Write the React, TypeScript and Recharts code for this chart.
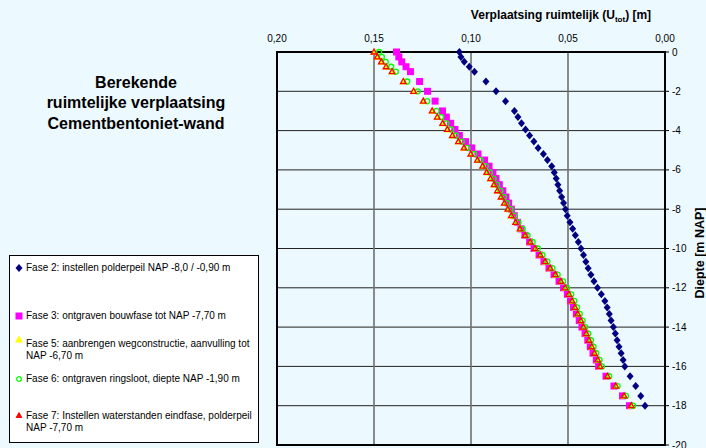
import { ScatterChart, Scatter, XAxis, YAxis, CartesianGrid, ReferenceArea } from 'recharts';

// depth of each calculation node [m NAP]
const depth = [
  0, -0.25, -0.5, -0.75, -1, -1.5, -2, -2.5, -3,
  -3.31, -3.63, -3.94, -4.25, -4.56, -4.88, -5.19, -5.5, -5.81, -6.13, -6.44, -6.75, -7.06, -7.38, -7.69, -8,
  -8.33, -8.67, -9, -9.33, -9.67, -10, -10.33, -10.67, -11, -11.33, -11.67, -12,
  -12.33, -12.67, -13, -13.33, -13.67, -14, -14.33, -14.67, -15, -15.33, -15.67, -16,
  -16.5, -17, -17.5, -18,
];

const fase2 = [
  0.106, 0.1052, 0.1035, 0.1009, 0.0982, 0.0923, 0.0871, 0.0822, 0.0776,
  0.0758, 0.074, 0.0719, 0.0698, 0.0676, 0.0654, 0.0627, 0.0606, 0.0584, 0.0571, 0.0561, 0.0552, 0.0543, 0.0533, 0.0523, 0.0513,
  0.0504, 0.049, 0.0476, 0.0462, 0.0447, 0.0433, 0.042, 0.0408, 0.0396, 0.0382, 0.0366, 0.0348,
  0.0328, 0.031, 0.0298, 0.0287, 0.0278, 0.0266, 0.0256, 0.0247, 0.0237, 0.0226, 0.0216, 0.0207,
  0.018, 0.0151, 0.0125, 0.0103,
];

const fase3 = [
  0.1384, 0.1372, 0.1357, 0.1335, 0.1312, 0.1265, 0.1224, 0.1185, 0.1147,
  0.1127, 0.1105, 0.1083, 0.106, 0.1028, 0.0996, 0.0964, 0.093, 0.0907, 0.0887, 0.0871, 0.0854, 0.0836, 0.082, 0.0806, 0.0792,
  0.0777, 0.076, 0.0742, 0.0722, 0.0698, 0.0675, 0.0649, 0.0624, 0.0598, 0.0572, 0.0546, 0.0523,
  0.0503, 0.0487, 0.0472, 0.0457, 0.0442, 0.0428, 0.0412, 0.0398, 0.0385, 0.0371, 0.0354, 0.0342,
  0.0304, 0.0263, 0.0219, 0.0183,
];

const fase5 = [
  0.1497, 0.1479, 0.1458, 0.1433, 0.1402, 0.1344, 0.1291, 0.1242, 0.1196,
  0.117, 0.1142, 0.1118, 0.1092, 0.1062, 0.1033, 0.0998, 0.0964, 0.0937, 0.0916, 0.0897, 0.0879, 0.0862, 0.0843, 0.0826, 0.0808,
  0.079, 0.0768, 0.0745, 0.0719, 0.0693, 0.0667, 0.0641, 0.0616, 0.059, 0.0563, 0.0535, 0.0513,
  0.0493, 0.0477, 0.0462, 0.0448, 0.0432, 0.0419, 0.0404, 0.039, 0.0376, 0.0362, 0.0345, 0.0333,
  0.0295, 0.0252, 0.0209, 0.0172,
];

const fase6 = [
  0.1476, 0.1462, 0.1442, 0.1414, 0.139, 0.1331, 0.1277, 0.1228, 0.118,
  0.1156, 0.1129, 0.1105, 0.108, 0.105, 0.1021, 0.0986, 0.0953, 0.0926, 0.0905, 0.0886, 0.0868, 0.0851, 0.0833, 0.0816, 0.0798,
  0.078, 0.0758, 0.0736, 0.0711, 0.0685, 0.0658, 0.0634, 0.0609, 0.0583, 0.0556, 0.0528, 0.0507,
  0.0486, 0.047, 0.0456, 0.0442, 0.0427, 0.0413, 0.0398, 0.0384, 0.0371, 0.0357, 0.034, 0.0328,
  0.029, 0.0247, 0.0204, 0.0167,
];

const fase7 = [
  0.15, 0.1483, 0.1462, 0.1438, 0.1407, 0.1349, 0.1296, 0.1246, 0.12,
  0.1174, 0.1146, 0.1122, 0.1096, 0.1065, 0.1036, 0.1001, 0.0967, 0.094, 0.0919, 0.0899, 0.0881, 0.0864, 0.0845, 0.0828, 0.081,
  0.0792, 0.077, 0.0747, 0.0721, 0.0695, 0.0669, 0.0643, 0.0618, 0.0592, 0.0565, 0.0537, 0.0515,
  0.0495, 0.0479, 0.0464, 0.045, 0.0434, 0.0421, 0.0406, 0.0392, 0.0378, 0.0364, 0.0347, 0.0335,
  0.0297, 0.0254, 0.0211, 0.0174,
];

const xTicks = [0, 0.05, 0.1, 0.15, 0.2];
const yTicks = [0, -2, -4, -6, -8, -10, -12, -14, -16, -18, -20];

const legendLabels = [
  'Fase 2: instellen polderpeil NAP -8,0 / -0,90 m',
  'Fase 3: ontgraven bouwfase tot NAP -7,70 m',
  'Fase 5: aanbrengen wegconstructie, aanvulling tot NAP -6,70 m',
  'Fase 6: ontgraven ringsloot, diepte NAP -1,90 m',
  'Fase 7: Instellen waterstanden eindfase, polderpeil NAP -7,70 m',
];

const toRows = (vals: number[]) => depth.map((y, i) => ({ x: vals[i], y }));

const FONT = '"Liberation Sans", Arial, sans-serif';

const Diamond = ({ cx, cy }: any) => (
  <path d={`M${cx},${cy - 4}L${cx + 3.5},${cy}L${cx},${cy + 4}L${cx - 3.5},${cy}Z`} fill="#000080" />
);
const Square = ({ cx, cy }: any) => <rect x={cx - 3.5} y={cy - 3.5} width={7} height={7} fill="#FF00FF" />;
const YellowTri = ({ cx, cy }: any) => (
  <path d={`M${cx},${cy - 4}L${cx + 4},${cy + 3}L${cx - 4},${cy + 3}Z`} fill="#FFFF00" />
);
const GreenCircle = ({ cx, cy }: any) => (
  <circle cx={cx + 0.5} cy={cy} r={2.5} fill="none" stroke="#00FF00" strokeWidth={1.3} />
);
const RedTri = ({ cx, cy }: any) => (
  <path d={`M${cx},${cy - 3}L${cx + 2.8},${cy + 2}L${cx - 2.8},${cy + 2}Z`} fill="none" stroke="#FF0000" strokeWidth={1.3} />
);

const legendMarkers = [
  <path d="M4,0L7.5,4L4,8L0.5,4Z" fill="#000080" />,
  <rect x={0.5} y={0.5} width={7} height={7} fill="#FF00FF" />,
  <path d="M4,0.5L8,7.5L0,7.5Z" fill="#FFFF00" />,
  <circle cx={4} cy={4} r={2.3} fill="none" stroke="#00FF00" strokeWidth={1.3} />,
  <path d="M4,1.5L6.8,6.5L1.2,6.5Z" fill="#FF0000" stroke="#FF0000" strokeWidth={1} />,
];
const legendTops = [262, 310, 338, 373, 410];
const markerTops = [264, 312, 335, 375, 411];

export default function App() {
  return (
    <div
      style={{
        position: 'absolute',
        left: 0,
        top: 0,
        width: 706,
        height: 448,
        background: '#ECF9FE',
        fontFamily: FONT,
        overflow: 'hidden',
      }}
    >
      <div
        style={{
          position: 'absolute',
          left: 0,
          top: 72.5,
          width: 272,
          textAlign: 'center',
          fontWeight: 'bold',
          fontSize: 16,
          lineHeight: '20.5px',
        }}
      >
        Berekende
        <br />
        ruimtelijke verplaatsing
        <br />
        Cementbentoniet-wand
      </div>

      <div
        style={{
          position: 'absolute',
          left: 411,
          width: 300,
          top: 7,
          textAlign: 'center',
          fontWeight: 'bold',
          fontSize: 12,
          lineHeight: '16px',
        }}
      >
        Verplaatsing ruimtelijk (U<sub style={{ fontSize: 8 }}>tot</sub>) [m]
      </div>

      <div
        style={{
          position: 'absolute',
          left: 700 - 60,
          top: 253,
          width: 120,
          marginTop: -8,
          height: 16,
          lineHeight: '16px',
          textAlign: 'center',
          fontWeight: 'bold',
          fontSize: 12.5,
          transform: 'rotate(-90deg)',
          transformOrigin: '60px 8px',
        }}
      >
        Diepte [m NAP]
      </div>

      <div
        style={{
          position: 'absolute',
          left: 9,
          top: 255,
          width: 248,
          height: 186,
          background: '#fff',
          border: '1.5px solid #000',
        }}
      />
      {legendLabels.map((label, i) => (
        <div key={label}>
          <svg
            width={8}
            height={8}
            style={{ position: 'absolute', left: 15, top: markerTops[i] }}
          >
            {legendMarkers[i]}
          </svg>
          <div
            style={{
              position: 'absolute',
              left: 26,
              top: legendTops[i],
              width: 228,
              fontSize: 10,
              lineHeight: '12px',
              color: '#000',
            }}
          >
            {label}
          </div>
        </div>
      ))}

      <div style={{ position: 'absolute', left: 0, top: 0 }}>
        <ScatterChart width={706} height={448} margin={{ top: 30, right: 0, bottom: 3, left: 277 }}>
          <CartesianGrid horizontal vertical={false} stroke="#222" strokeWidth={1} />
          <CartesianGrid horizontal={false} vertical stroke="#707070" strokeWidth={1.6} />
          <XAxis
            type="number"
            dataKey="x"
            orientation="top"
            reversed
            domain={[0, 0.2]}
            ticks={xTicks}
            height={22}
            axisLine={false}
            tickLine={false}
            tickSize={4}
            tickMargin={6}
            tick={{ fontSize: 10, fill: '#000', fontFamily: FONT }}
            tickFormatter={(v) => v.toFixed(2).replace('.', ',')}
            interval={0}
          />
          <YAxis
            type="number"
            dataKey="y"
            orientation="right"
            domain={[-20, 0]}
            ticks={yTicks}
            width={41}
            axisLine={false}
            tickLine={{ stroke: '#000' }}
            tickSize={4}
            tickMargin={3}
            tick={{ fontSize: 10, fill: '#000', fontFamily: FONT, textAnchor: 'start' }}
            interval={0}
          />
          <ReferenceArea
            x1={0}
            x2={0.2}
            y1={-20}
            y2={0}
            fill="none"
            stroke="#000"
            strokeWidth={2}
            fillOpacity={0}
            ifOverflow="visible"
          />
          <Scatter data={toRows(fase2)} shape={Diamond} isAnimationActive={false} />
          <Scatter data={toRows(fase3)} shape={Square} isAnimationActive={false} />
          <Scatter data={toRows(fase5)} shape={YellowTri} isAnimationActive={false} />
          <Scatter data={toRows(fase6)} shape={GreenCircle} isAnimationActive={false} />
          <Scatter data={toRows(fase7)} shape={RedTri} isAnimationActive={false} />
        </ScatterChart>
      </div>
    </div>
  );
}
